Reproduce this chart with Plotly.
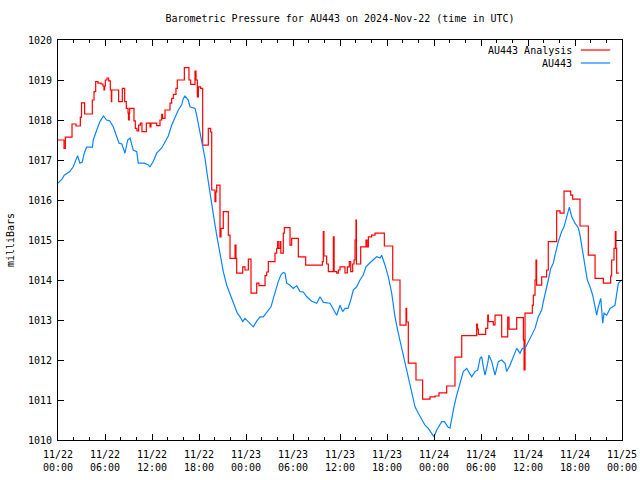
import pandas as pd
import plotly.graph_objects as go

# ---- data (hours after 2024-11-22 00:00 UTC, pressure in mb) ----
analysis_hours = [0.0, 0.77, 0.94, 1.79, 2.3, 2.85, 3.0, 3.4, 4.38, 4.6, 4.81, 5.1, 5.5, 5.74, 5.87, 5.95,
                  6.04, 6.25, 6.47, 6.68, 6.81, 6.86, 7.74, 8.21, 8.51, 8.72, 8.94, 9.0, 9.1, 9.15, 9.7,
                  9.87, 10.08, 10.3, 10.51, 10.72, 11.28, 11.75, 11.87, 12.6, 13.02, 13.24, 13.35, 13.66,
                  14.3, 14.51, 14.72, 15.06, 15.23, 16.13, 16.72, 16.94, 17.49, 17.62, 17.79, 17.92,
                  18.21, 18.47, 19.19, 19.49, 19.62, 20.04, 20.15, 20.26, 20.68, 20.81, 21.1, 21.74,
                  21.96, 22.6, 22.72, 22.81, 23.58, 23.87, 24.3, 24.64, 25.37, 25.66, 26.43, 26.64,
                  26.85, 27.7, 27.92, 28.04, 28.12, 28.34, 28.45, 28.76, 28.89, 29.62, 29.83, 30.68,
                  31.62, 33.74, 33.87, 33.95, 34.3, 34.51, 35.15, 35.25, 35.58, 35.79, 36.0, 36.64,
                  36.94, 37.19, 37.37, 37.62, 37.79, 37.92, 38.04, 38.1, 38.64, 39.32, 39.45, 39.62,
                  40.04, 40.47, 41.66, 42.73, 43.66, 44.43, 44.51, 44.72, 45.7, 46.55, 47.49, 48.13,
                  48.64, 49.62, 50.68, 51.54, 53.45, 53.55, 53.66, 54.6, 54.86, 54.94, 55.57, 55.79,
                  56.64, 57.41, 57.58, 58.56, 59.41, 59.5, 59.62, 60.55, 60.68, 60.9, 61.02, 61.1,
                  61.75, 62.38, 62.59, 63.66, 64.09, 64.6, 65.45, 65.7, 66.64, 67.7, 68.56, 69.62,
                  70.55, 70.68, 70.98, 71.15, 71.23, 71.32, 71.6]
analysis_mb = [1017.5, 1017.29, 1017.57, 1017.9, 1017.85, 1018.07, 1018.43, 1018.15, 1018.5, 1018.71,
               1018.96, 1018.92, 1018.9, 1018.85, 1018.75, 1018.85, 1019.0, 1019.05, 1018.98, 1018.75,
               1018.46, 1018.75, 1018.46, 1018.79, 1018.46, 1018.29, 1018.17, 1018.0, 1018.17, 1018.29,
               1017.98, 1017.79, 1017.73, 1017.87, 1017.92, 1017.71, 1017.92, 1017.83, 1017.92, 1017.86,
               1018.0, 1018.14, 1018.04, 1018.25, 1018.42, 1018.54, 1018.64, 1018.79, 1019.0, 1019.31,
               1019.0, 1018.89, 1019.22, 1019.0, 1018.58, 1018.83, 1018.79, 1017.37, 1017.79, 1017.7,
               1016.25, 1015.96, 1016.2, 1016.37, 1015.08, 1015.29, 1015.71, 1015.12, 1014.54, 1014.87,
               1014.54, 1014.17, 1014.33, 1014.25, 1014.52, 1013.67, 1013.92, 1013.86, 1014.11, 1014.2,
               1014.46, 1014.67, 1014.79, 1014.96, 1014.79, 1014.96, 1014.67, 1015.17, 1015.31, 1014.87,
               1015.04, 1014.58, 1014.37, 1014.46, 1015.21, 1014.6, 1014.4, 1014.21, 1015.08, 1014.21,
               1014.17, 1014.25, 1014.33, 1014.18, 1014.33, 1014.46, 1014.21, 1014.4, 1014.5, 1015.0,
               1015.5, 1014.4, 1014.83, 1015.0, 1014.83, 1015.08, 1015.12, 1015.17, 1014.85, 1014.0,
               1012.87, 1013.29, 1012.95, 1011.92, 1011.5, 1011.02, 1011.08, 1011.1, 1011.18, 1011.35,
               1012.07, 1012.61, 1012.9, 1012.77, 1012.64, 1012.79, 1013.12, 1012.96, 1012.88, 1013.12,
               1012.58, 1013.07, 1012.77, 1013.06, 1012.5, 1011.75, 1013.17, 1013.37, 1013.62, 1014.0,
               1014.5, 1013.87, 1014.08, 1014.25, 1014.96, 1015.73, 1015.67, 1016.22, 1016.12, 1016.02,
               1015.35, 1014.62, 1014.04, 1013.92, 1014.1, 1014.5, 1014.79, 1015.21, 1014.79, 1014.17,
               1014.17]

obs_hours = [0.0, 0.5, 0.8, 1.5, 1.95, 2.25, 2.5, 2.8, 3.1, 3.35, 3.65, 4.4, 4.5, 4.95, 5.35, 5.8, 6.2,
             6.6, 7.05, 7.5, 7.8, 8.15, 8.55, 8.9, 9.2, 9.6, 10.05, 10.25, 11.0, 11.5, 11.74, 12.17,
             12.6, 13.24, 13.66, 14.08, 14.51, 14.94, 15.36, 15.79, 16.0, 16.21, 16.63, 16.85, 17.49,
             17.7, 18.13, 18.47, 18.77, 19.06, 19.32, 19.62, 19.91, 20.26, 20.68, 21.1, 21.54, 21.87,
             22.17, 22.6, 22.89, 23.24, 23.58, 23.87, 24.3, 24.93, 25.37, 25.79, 26.21, 26.64, 27.19,
             27.49, 27.79, 28.12, 28.47, 28.76, 28.98, 29.2, 29.62, 30.04, 30.47, 30.9, 31.32, 31.75,
             32.39, 33.03, 33.45, 33.87, 34.72, 35.15, 35.58, 36.0, 36.35, 36.64, 37.02, 37.37, 37.7,
             38.13, 38.55, 38.98, 39.32, 39.83, 40.25, 40.69, 41.11, 41.32, 41.75, 42.17, 42.6, 42.8,
             43.02, 43.44, 43.88, 44.3, 44.72, 45.15, 45.58, 46.0, 46.43, 46.85, 47.27, 47.71, 48.0,
             48.35, 48.98, 49.34, 49.75, 50.04, 50.26, 50.55, 50.9, 51.19, 51.54, 51.74, 52.17, 52.38,
             52.81, 53.24, 53.58, 53.88, 54.09, 54.3, 54.51, 54.86, 55.02, 55.37, 55.79, 56.21, 56.64,
             57.07, 57.28, 57.7, 58.12, 58.56, 58.98, 59.28, 59.62, 59.96, 60.26, 60.68, 60.9, 61.32,
             61.75, 61.96, 62.17, 62.59, 62.9, 63.23, 63.45, 63.87, 64.3, 64.6, 64.94, 65.28, 65.58,
             66.0, 66.43, 66.64, 66.98, 67.28, 67.57, 67.92, 68.26, 68.56, 68.77, 68.98, 69.29, 69.54,
             69.71, 70.05, 70.47, 71.11, 71.32, 71.53, 71.96]
obs_mb = [1016.42, 1016.52, 1016.62, 1016.71, 1016.83, 1017.0, 1017.11, 1016.92, 1016.95, 1017.17,
          1017.32, 1017.32, 1017.5, 1017.75, 1017.96, 1018.1, 1018.0, 1017.98, 1017.83, 1017.58,
          1017.42, 1017.4, 1017.17, 1017.5, 1017.55, 1017.25, 1017.21, 1016.92, 1016.92, 1016.88,
          1016.83, 1016.97, 1017.17, 1017.3, 1017.44, 1017.6, 1017.87, 1018.08, 1018.25, 1018.38,
          1018.54, 1018.6, 1018.5, 1018.33, 1018.29, 1018.12, 1017.71, 1017.33, 1017.04, 1016.62,
          1016.25, 1015.92, 1015.54, 1015.12, 1014.62, 1014.21, 1013.87, 1013.71, 1013.54, 1013.33,
          1013.17, 1013.08, 1012.96, 1013.04, 1012.96, 1012.83, 1012.97, 1013.08, 1013.08, 1013.18,
          1013.33, 1013.54, 1013.75, 1013.96, 1014.13, 1014.19, 1014.17, 1013.92, 1013.87, 1013.79,
          1013.86, 1013.71, 1013.7, 1013.58, 1013.47, 1013.42, 1013.58, 1013.44, 1013.42, 1013.25,
          1013.12, 1013.37, 1013.21, 1013.29, 1013.29, 1013.5, 1013.75, 1013.83, 1014.0, 1014.13,
          1014.33, 1014.43, 1014.5, 1014.58, 1014.55, 1014.62, 1014.37, 1014.08, 1013.67, 1013.33,
          1013.08, 1012.67, 1012.29, 1011.92, 1011.5, 1011.12, 1010.83, 1010.67, 1010.5, 1010.37,
          1010.29, 1010.17, 1010.08, 1010.25, 1010.46, 1010.46, 1010.33, 1010.3, 1010.54, 1010.83,
          1011.12, 1011.33, 1011.58, 1011.71, 1011.79, 1011.71, 1011.58, 1011.71, 1011.75, 1012.04,
          1012.08, 1011.83, 1011.62, 1011.92, 1012.12, 1011.96, 1011.62, 1011.96, 1012.0, 1011.92,
          1011.71, 1011.87, 1012.08, 1012.29, 1012.17, 1012.29, 1012.29, 1012.42, 1012.54, 1012.67,
          1012.79, 1013.08, 1013.25, 1013.46, 1013.62, 1014.0, 1014.29, 1014.42, 1014.62, 1014.96,
          1015.21, 1015.33, 1015.58, 1015.82, 1015.58, 1015.42, 1015.3, 1015.12, 1014.71, 1014.29,
          1014.0, 1013.83, 1013.62, 1013.33, 1013.12, 1013.33, 1013.54, 1012.92, 1013.17, 1013.12,
          1013.29, 1013.37, 1013.62, 1013.92, 1014.0]

tick_hours = [0, 6, 12, 18, 24, 30, 36, 42, 48, 54, 60, 66, 72]
tick_labels = ["11/22<br>00:00", "11/22<br>06:00", "11/22<br>12:00", "11/22<br>18:00",
               "11/23<br>00:00", "11/23<br>06:00", "11/23<br>12:00", "11/23<br>18:00",
               "11/24<br>00:00", "11/24<br>06:00", "11/24<br>12:00", "11/24<br>18:00",
               "11/25<br>00:00"]
series_names = ["AU443 Analysis", "AU443"]
series_colors = ["#ff0000", "#0a84ff"]

start = pd.Timestamp("2024-11-22 00:00")
to_time = lambda hrs: [start + pd.Timedelta(hours=h) for h in hrs]

FONT = "DejaVu Sans Mono"
W, H = 640, 480

fig = go.Figure()
fig.add_trace(go.Scatter(x=to_time(analysis_hours), y=analysis_mb, mode="lines",
                         line=dict(color=series_colors[0], width=1.2, shape="hv"),
                         name=series_names[0], showlegend=False))
fig.add_trace(go.Scatter(x=to_time(obs_hours), y=obs_mb, mode="lines",
                         line=dict(color=series_colors[1], width=1.2),
                         name=series_names[1], showlegend=False))

# legend drawn gnuplot style (text then sample line)
for i, (nm, col) in enumerate(zip(series_names, series_colors)):
    yp = 0.975 - i * 0.0325
    fig.add_annotation(xref="paper", yref="paper", x=0.915, y=yp, text=nm, showarrow=False,
                       xanchor="right", yanchor="middle", font=dict(family=FONT, size=10, color="black"))
    fig.add_shape(type="line", xref="paper", yref="paper", x0=0.927, x1=0.979, y0=yp, y1=yp,
                  line=dict(color=col, width=1.2))

fig.add_annotation(xref="paper", yref="paper", x=-0.085, y=0.5, text="milliBars", textangle=-90,
                   showarrow=False, xanchor="center", yanchor="middle",
                   font=dict(family=FONT, size=10, color="black"))

fig.update_layout(
    width=W, height=H,
    margin=dict(l=58, r=18, t=40, b=40, autoexpand=False),
    paper_bgcolor="white", plot_bgcolor="white",
    title=dict(text="Barometric Pressure for AU443 on 2024-Nov-22 (time in UTC)",
               x=340 / W, xanchor="center", y=1 - 18 / H, yanchor="middle",
               font=dict(family=FONT, size=10, color="black")),
    font=dict(family=FONT, size=10, color="black"),
)
fig.update_xaxes(
    type="date", range=[start, start + pd.Timedelta(hours=72)], automargin=False,
    tickvals=to_time(tick_hours), ticktext=tick_labels, ticklabelstandoff=5,
    ticks="inside", ticklen=6, tickcolor="black", mirror="allticks",
    showline=True, linecolor="black", linewidth=1, showgrid=False, zeroline=False,
    tickfont=dict(family=FONT, size=10, color="black"),
    minor=dict(ticks="inside", ticklen=3, tickcolor="black", dtick=2 * 3600 * 1000, tick0=start, showgrid=False),
)
fig.update_yaxes(
    range=[1010, 1020], dtick=1, tick0=1010, automargin=False, ticklabelstandoff=3,
    ticks="inside", ticklen=6, tickcolor="black", mirror="allticks",
    showline=True, linecolor="black", linewidth=1, showgrid=False, zeroline=False,
    tickfont=dict(family=FONT, size=10, color="black"),
)

fig.write_html("out.html",
               config={"displayModeBar": False, "staticPlot": True},
               post_script="document.body.style.margin='0';"
                           "document.documentElement.style.overflow='hidden';"
                           "document.body.style.overflow='hidden';")
